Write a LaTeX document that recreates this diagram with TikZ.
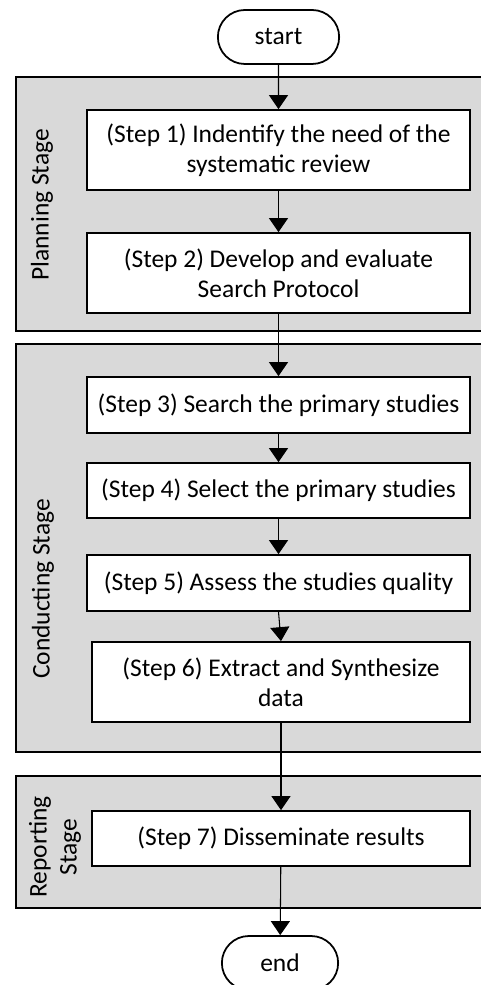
\documentclass[tikz,border=0pt]{standalone}
\usepackage{fontspec}
\setmainfont{Carlito}
\usepackage{tikz}
\usetikzlibrary{shapes.misc,arrows.meta,positioning}
\definecolor{stagegray}{RGB}{217,217,217}

\begin{document}
\begin{tikzpicture}[
    every node/.style={font=\fontsize{14.5}{17}\selectfont},
    stepbox/.style={rectangle,draw,fill=white,line width=1pt,align=center,minimum width=7.66cm,inner sep=2pt},
    terminal/.style={rounded rectangle,draw,fill=white,line width=1pt,minimum width=2.66cm,minimum height=1.08cm},
    stagepanel/.style={draw,fill=stagegray,line width=1pt},
    flow/.style={-{Triangle[length=2.8mm,width=3.8mm]},line width=0.6pt}
  ]
  \useasboundingbox (0,0) rectangle (9.62,-19.7);
  % Stage panels
  \draw[stagepanel] (0.32,-1.54) rectangle (9.8,-6.62);
  \draw[stagepanel] (0.32,-6.88) rectangle (9.8,-15.04);
  \draw[stagepanel] (0.32,-15.52) rectangle (9.8,-18.16);
  \node[rotate=90] (planlbl) at (0.84,-4.1) {Planning Stage};
  \node[rotate=90] (condlbl) at (0.86,-11.78) {Conducting Stage};
  \node[rotate=90,align=center] (replbl) at (1.1,-16.94) {Reporting\\Stage};
  % Flow
  \node[terminal] (start) at (5.57,-0.74) {start};
  \node[stepbox,minimum height=1.6cm] (s1) at (5.57,-3.0) {(Step 1) Indentify the need of the\\systematic review};
  \node[stepbox,minimum height=1.6cm] (s2) at (5.57,-5.46) {(Step 2) Develop and evaluate\\Search Protocol};
  \node[stepbox,minimum height=1.12cm] (s3) at (5.57,-8.1) {(Step 3) Search the primary studies};
  \node[stepbox,minimum height=1.1cm] (s4) at (5.57,-9.81) {(Step 4) Select the primary studies};
  \node[stepbox,minimum height=1.12cm] (s5) at (5.57,-11.66) {(Step 5) Assess the studies quality};
  \node[stepbox,minimum height=1.6cm,minimum width=7.56cm] (s6) at (5.62,-13.64) {(Step 6) Extract and Synthesize\\data};
  \node[stepbox,minimum height=1.1cm,minimum width=7.56cm] (s7) at (5.62,-16.77) {(Step 7) Disseminate results};
  \node[terminal,minimum width=2.56cm] (end) at (5.6,-19.26) {end};
  % Connectors
  \draw[flow] (start) -- (s1);
  \draw[flow] (s1) -- (s2);
  \draw[flow] (s2) -- (s3);
  \draw[flow] (s3) -- (s4);
  \draw[flow] (s4) -- (s5);
  \draw[flow] (s5.south) -- (s6.north);
  \draw[flow] (s6) -- (s7);
  \draw[flow] (s7) -- (end);
\end{tikzpicture}
\end{document}
